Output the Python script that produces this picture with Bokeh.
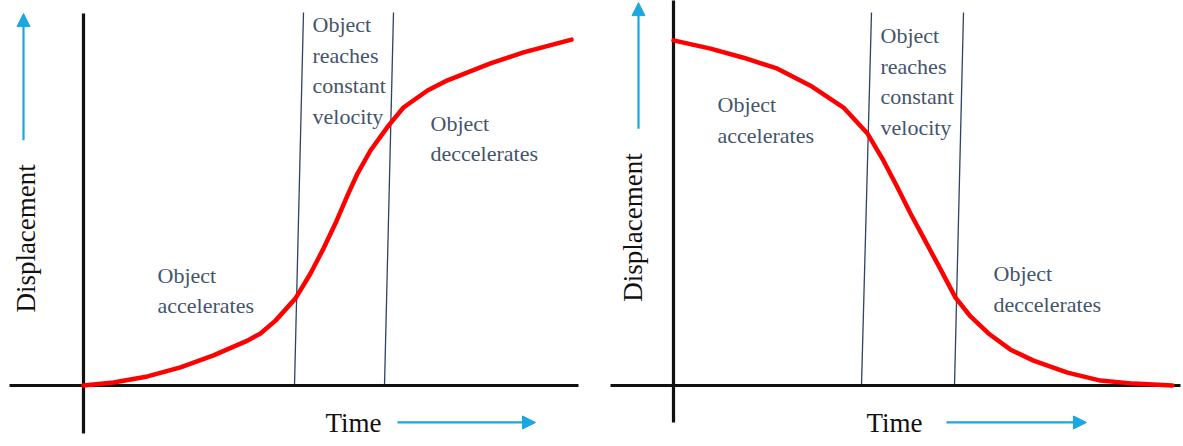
import math
from bokeh.plotting import figure
from bokeh.layouts import row
from bokeh.models import Range1d, Arrow, NormalHead
from bokeh.embed import file_html
from bokeh.resources import INLINE
from bokeh.core.properties import value

# ---------------- data ----------------
# Left chart: displacement rises (S-curve)
rise_time = [0.0, 0.6, 1.28, 1.94, 2.6, 3.28, 3.54, 3.84, 4.24, 4.54, 4.8, 5.04,
             5.28, 5.48, 5.74, 6.1, 6.4, 6.88, 7.28, 8.14, 8.8, 9.76]
rise_disp = [0.0, 0.08, 0.24, 0.48, 0.80, 1.19, 1.38, 1.72, 2.31, 2.97, 3.63, 4.30,
             5.04, 5.62, 6.23, 6.89, 7.37, 7.82, 8.09, 8.54, 8.83, 9.17]

# Right chart: displacement falls (reverse S-curve)
fall_time = [0.0, 0.74, 1.4, 2.08, 2.74, 3.4, 3.88, 4.2, 4.48, 4.74, 5.0, 5.28,
             5.64, 5.94, 6.3, 6.74, 7.2, 7.88, 8.54, 9.2, 9.98]
fall_disp = [9.15, 8.93, 8.69, 8.40, 7.95, 7.37, 6.68, 5.96, 5.25, 4.56, 3.92, 3.23,
             2.33, 1.83, 1.38, 0.95, 0.66, 0.34, 0.13, 0.05, 0.0]

# Phase boundaries (time at bottom / top of the slanted lines)
rise_bound_bottom = [4.22, 6.02]
rise_bound_top = [4.4, 6.2]
fall_bound_bottom = [3.76, 5.62]
fall_bound_top = [3.96, 5.8]

label_accel = ["Object", "accelerates"]
label_const = ["Object", "reaches", "constant", "velocity"]
label_decel = ["Object", "deccelerates"]
x_label = "Time"
y_label = "Displacement"

# ---------------- styling ----------------
SERIF = value("Liberation Serif")
TEXT_COLOR = "#44546A"
CYAN = "#1AA7E3"
NAVY = "#2E4366"
Y_TOP = 9.89
Y_MIN, Y_MAX = -1.617, 10.207
H = 446


def make_panel(width, x_start, x_end, t, d, b_bot, b_top,
               axis_h, axis_v, up_arrow, time_pos, time_arrow, disp_pos,
               groups):
    p = figure(width=width, height=H, output_backend="svg", toolbar_location=None,
               x_range=Range1d(x_start, x_end), y_range=Range1d(Y_MIN, Y_MAX),
               min_border=0, outline_line_color=None)
    p.axis.visible = False
    p.grid.visible = False
    p.background_fill_color = "white"
    p.border_fill_color = "white"

    # phase boundary lines
    p.segment(x0=b_bot, y0=[0, 0], x1=b_top, y1=[Y_TOP, Y_TOP],
              line_color=NAVY, line_width=1.3)

    # axes as thick black lines crossing at origin
    p.segment(x0=[axis_h[0]], y0=[0], x1=[axis_h[1]], y1=[0],
              line_color="#111111", line_width=3.2)
    p.segment(x0=[0], y0=[axis_v[0]], x1=[0], y1=[axis_v[1]],
              line_color="#111111", line_width=3.2)

    # curve
    p.line(t, d, line_color="#FF0000", line_width=4.5, line_join="round",
           line_cap="round")

    # arrows
    p.add_layout(Arrow(end=NormalHead(size=13, fill_color=CYAN, line_color=CYAN),
                       x_start=up_arrow[0], y_start=up_arrow[1],
                       x_end=up_arrow[0], y_end=up_arrow[2],
                       line_color=CYAN, line_width=2.2))
    p.add_layout(Arrow(end=NormalHead(size=13, fill_color=CYAN, line_color=CYAN),
                       x_start=time_arrow[0], y_start=time_arrow[2],
                       x_end=time_arrow[1], y_end=time_arrow[2],
                       line_color=CYAN, line_width=2.2))

    # axis titles
    p.text(x=[time_pos[0]], y=[time_pos[1]], text=[x_label], text_font=SERIF,
           text_font_size="27px", text_color="#111111", text_align="center",
           text_baseline="middle")
    p.text(x=[disp_pos[0]], y=[disp_pos[1]], text=[y_label], text_font=SERIF,
           text_font_size="27px", text_color="#111111", text_align="center",
           text_baseline="middle", angle=math.pi / 2)

    # phase annotations
    for words, gx, gy in groups:
        ys = [gy - i * 0.81 for i in range(len(words))]
        p.text(x=[gx] * len(words), y=ys, text=words, text_font=SERIF,
               text_font_size="22px", text_color=TEXT_COLOR, text_align="left",
               text_baseline="middle")
    return p


left = make_panel(596, -1.66, 10.26, rise_time, rise_disp,
                  rise_bound_bottom, rise_bound_top,
                  axis_h=(-1.48, 9.9), axis_v=(-1.27, 9.86),
                  up_arrow=(-1.2, 6.5, 9.86),
                  time_pos=(5.4, -1.0), time_arrow=(6.28, 9.04, -0.98),
                  disp_pos=(-1.16, 3.9),
                  groups=[(label_accel, 1.48, 2.92),
                          (label_const, 4.58, 9.57),
                          (label_decel, 6.94, 6.95)])

right = make_panel(587, -1.54, 10.2, fall_time, fall_disp,
                   fall_bound_bottom, fall_bound_top,
                   axis_h=(-1.26, 10.14), axis_v=(-0.98, 10.3),
                   up_arrow=(-0.7, 6.81, 10.15),
                   time_pos=(4.42, -1.0), time_arrow=(5.46, 8.26, -0.98),
                   disp_pos=(-0.82, 4.19),
                   groups=[(label_accel, 0.88, 7.45),
                           (label_const, 4.14, 9.28),
                           (label_decel, 6.4, 2.97)])

layout = row(left, right, spacing=0)
open("out.html", "w").write(file_html(layout, INLINE))
